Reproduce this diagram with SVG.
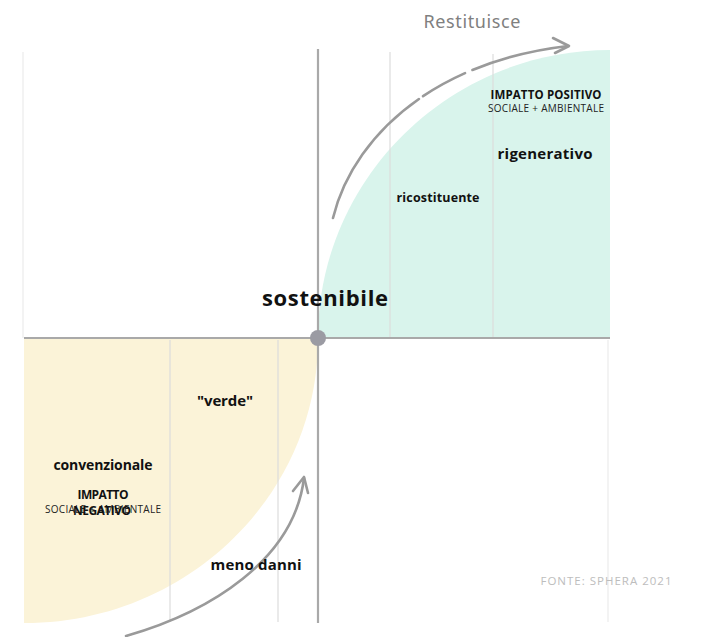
<svg xmlns="http://www.w3.org/2000/svg" width="706" height="637" viewBox="0 0 706 637">
  <style>
    .b { font-family: "Open Sans", "Noto Sans", sans-serif; font-weight: 700; fill: #111; text-anchor: middle; }
    .s { font-family: "Open Sans", "Noto Sans", sans-serif; font-weight: 400; fill: #222; text-anchor: middle; }
    .grid { stroke: #dcdcdc; stroke-width: 1.2; fill: none; }
    .faint { stroke: #f3f3f3; stroke-width: 2; fill: none; }
    .axis { stroke: #a9a9a9; stroke-width: 2.2; fill: none; }
    .arrow { stroke: #9a9a9a; stroke-width: 2.6; fill: none; stroke-linecap: round; stroke-linejoin: round; }
  </style>
  <rect width="706" height="637" fill="#ffffff"/>

  <g id="background-lines">
    <line class="faint" x1="23" y1="52" x2="23" y2="338"/>
    <line class="faint" x1="608" y1="340" x2="608" y2="622"/>
  </g>

  <g id="quadrant-positive">
    <path d="M318,338 C318,179 449,50 610,50 L610,338 Z" fill="#d9f4ec"/>
    <line class="grid" x1="390" y1="52" x2="390" y2="337"/>
    <line class="grid" x1="493" y1="54" x2="493" y2="337"/>
  </g>

  <g id="quadrant-negative">
    <path d="M24,339 L318,339 C318,496 186,623 24,623 Z" fill="#fbf3d8"/>
    <line class="grid" x1="170" y1="340" x2="170" y2="622"/>
    <line class="grid" x1="278" y1="340" x2="278" y2="622"/>
  </g>

  <g id="axes">
    <line class="axis" x1="318" y1="49" x2="318" y2="623"/>
    <line class="axis" x1="24" y1="338" x2="610" y2="338"/>
  </g>

  <g id="connectors">
    <path class="arrow" d="M333,218 C352,140 430,62 568,46" stroke-dasharray="150 5 48 8 200"/>
    <polyline class="arrow" points="553,38 569,46 555,53"/>
    <path class="arrow" d="M126,636 C210,612 294,560 304,478"/>
    <polyline class="arrow" points="293,491 304,477 308,493"/>
  </g>

  <g id="node-sostenibile">
    <circle cx="318" cy="338" r="8" fill="#9b9ba3"/>
    <text class="b" x="325" y="306" font-size="22" textLength="126">sostenibile</text>
  </g>

  <g id="node-restituisce">
    <text x="472" y="28" font-family="'Noto Sans', 'Open Sans', sans-serif" font-size="18" fill="#808080" text-anchor="middle" textLength="97">Restituisce</text>
  </g>

  <g id="node-impatto-positivo">
    <text class="b" x="546" y="99" font-size="11.5" textLength="111">IMPATTO POSITIVO</text>
    <text class="s" x="546" y="112" font-size="10" textLength="116">SOCIALE + AMBIENTALE</text>
  </g>

  <g id="node-rigenerativo">
    <text class="b" x="545" y="159" font-size="15" textLength="95">rigenerativo</text>
  </g>

  <g id="node-ricostituente">
    <text class="b" x="438" y="202" font-size="12.5" textLength="83">ricostituente</text>
  </g>

  <g id="node-verde">
    <text class="b" x="225" y="406" font-size="15" textLength="56">"verde"</text>
  </g>

  <g id="node-convenzionale">
    <text class="b" x="103" y="470" font-size="14" textLength="99">convenzionale</text>
  </g>

  <g id="node-impatto-negativo">
    <text class="s" x="103" y="513" font-size="10" textLength="116">SOCIALE + AMBIENTALE</text>
    <text class="b" x="103" y="499" font-size="12" textLength="51">IMPATTO</text>
    <text class="b" x="102" y="515" font-size="12" textLength="58">NEGATIVO</text>
  </g>

  <g id="node-meno-danni">
    <text class="b" x="256" y="570" font-size="15" textLength="91">meno danni</text>
  </g>

  <g id="node-fonte">
    <text x="606" y="585" font-family="'Open Sans', 'Noto Sans', sans-serif" font-size="11.5" fill="#bdbdbd" text-anchor="middle" textLength="131">FONTE: SPHERA 2021</text>
  </g>
</svg>
